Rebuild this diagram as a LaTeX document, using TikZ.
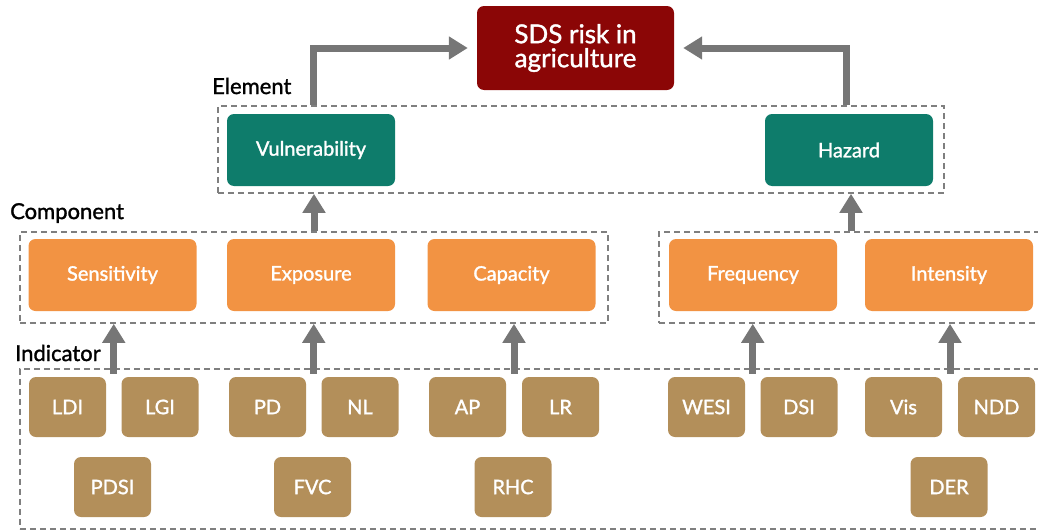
\documentclass[tikz,border=0pt]{standalone}
\usepackage{fontspec}
\setmainfont{Lato}
\newfontfamily\boxfont{Lato}[FakeBold=1.4]
\newfontfamily\lblfont{Lato}[FakeBold=1.4]
\usetikzlibrary{arrows.meta,calc}
\definecolor{sdsred}{HTML}{8B0606}
\definecolor{elgreen}{HTML}{0E7C6B}
\definecolor{comporange}{HTML}{F29343}
\definecolor{indbrown}{HTML}{B38F5A}
\definecolor{arrgrey}{HTML}{767676}
\definecolor{dashgrey}{HTML}{7F7F7F}
\tikzset{
  box/.style={rounded corners=7pt, text=white, inner sep=0pt, align=center,
    font=\boxfont\fontsize{20}{22}\selectfont},
  elembox/.style={box, fill=elgreen, minimum width=168pt, minimum height=72pt},
  compbox/.style={box, fill=comporange, minimum width=168pt, minimum height=72pt},
  indbox/.style={box, fill=indbrown, minimum width=77pt, minimum height=60pt},
  riskbox/.style={box, fill=sdsred, minimum width=197pt, minimum height=84pt,
    font=\boxfont\fontsize{26}{24}\selectfont},
  group/.style={draw=dashgrey, line width=1.8pt, dash pattern=on 6pt off 4pt, inner sep=0pt},
  lvl/.style={text=black, inner sep=0pt, anchor=west, font=\lblfont\fontsize{22}{24}\selectfont},
  arr/.style={draw=arrgrey, line width=7pt, -{Triangle[length=19pt,width=22pt]}},
}
\begin{document}
\begin{tikzpicture}[x=1pt,y=-1pt]
\useasboundingbox (0,0) rectangle (1038,530);
% groups
\node[group, minimum width=726pt, minimum height=87pt, anchor=north west] (elem) at (217,105) {};
\node[group, minimum width=588pt, minimum height=91pt, anchor=north west] (compL) at (19,231) {};
\node[group, minimum width=400pt, minimum height=91pt, anchor=north west] (compR) at (658,231) {};
\node[group, minimum width=1040pt, minimum height=160pt, anchor=north west] (ind) at (19,368) {};
% labels
\node[lvl] (lelem) at (212,86) {Element};
\node[lvl] (lcomp) at (10,213) {Component};
\node[lvl] (lind) at (15,353) {Indicator};
% top
\node[riskbox] (sds) at (575.5,48) {SDS risk in\\agriculture};
% elements
\node[elembox] (vul) at (311,150) {Vulnerability};
\node[elembox] (haz) at (849,150) {Hazard};
% components
\node[compbox] (sens) at (112.5,275) {Sensitivity};
\node[compbox] (expo) at (311,275) {Exposure};
\node[compbox] (capa) at (511.5,275) {Capacity};
\node[compbox] (freq) at (753,275) {Frequency};
\node[compbox] (inte) at (949,275) {Intensity};
% indicators
\node[indbox] (LDI) at (67.5,407) {LDI};
\node[indbox] (LGI) at (160,407) {LGI};
\node[indbox] (PD) at (267.5,407) {PD};
\node[indbox] (NL) at (360,407) {NL};
\node[indbox] (AP) at (467.5,407) {AP};
\node[indbox] (LR) at (560.5,407) {LR};
\node[indbox] (PDSI) at (112.5,487) {PDSI};
\node[indbox] (FVC) at (312.5,487) {FVC};
\node[indbox] (RHC) at (513,487) {RHC};
\node[indbox] (WESI) at (706.5,407) {WESI};
\node[indbox] (DSI) at (799,407) {DSI};
\node[indbox] (Vis) at (903.5,407) {Vis};
\node[indbox] (NDD) at (996.5,407) {NDD};
\node[indbox] (DER) at (949,487) {DER};
% arrow start points
\coordinate (s1) at ($(LDI.north east)!0.5!(LGI.north west)+(0,-3)$);
\coordinate (s2) at ($(PD.north east)!0.5!(NL.north west)+(0,-3)$);
\coordinate (s3) at ($(AP.north east)!0.5!(LR.north west)+(0,-3)$);
\coordinate (s4) at ($(WESI.north east)!0.5!(DSI.north west)+(0,-3)$);
\coordinate (s5) at ($(Vis.north east)!0.5!(NDD.north west)+(0,-3)$);
\coordinate (s6) at ($(expo.north)+(3,0)$);
\coordinate (s7) at ($(freq.east)!0.5!(inte.west)$);
\coordinate (s8) at ($(vul.north)+(2,0)$);
\coordinate (s9) at ($(haz.north)+(-3,0)$);
% arrows: indicators -> components
\draw[arr] (s1) -- (s1 |- compL.south);
\draw[arr] (s2) -- (s2 |- compL.south);
\draw[arr] (s3) -- (s3 |- compL.south);
\draw[arr] (s4) -- (s4 |- compR.south);
\draw[arr] (s5) -- (s5 |- compR.south);
% components -> elements
\draw[arr] (s6 |- compL.north) -- (s6 |- elem.south);
\draw[arr] (s7 |- compR.north) -- (s7 |- elem.south);
% elements -> risk
\draw[arr] (s8 |- elem.north) |- ([xshift=-9pt]sds.west);
\draw[arr] (s9 |- elem.north) |- ([xshift=9pt]sds.east);
\end{tikzpicture}
\end{document}
